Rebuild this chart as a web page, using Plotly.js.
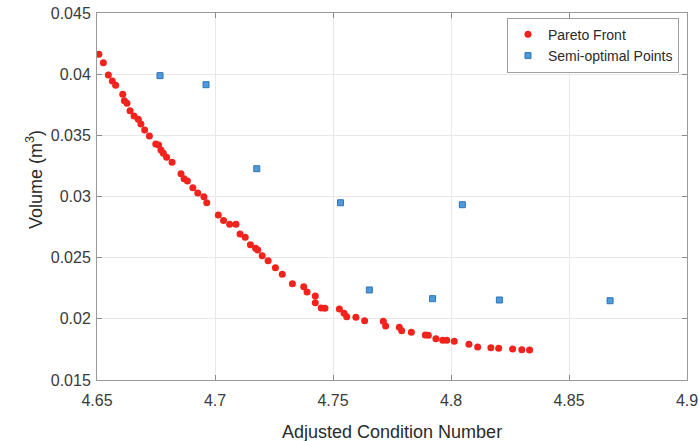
<!DOCTYPE html>
<html>
<head>
<meta charset="utf-8">
<script src="https://cdn.plot.ly/plotly-3.0.1.min.js"></script>
<style>html,body{margin:0;padding:0;background:#fff;}#chart{width:699px;height:441px;}</style>
</head>
<body>
<div id="chart"></div>
<script>
// Pareto front (red dots)
var paretoX = [4.6508, 4.6527, 4.6548, 4.6565, 4.6579, 4.6609, 4.6616, 4.6627, 4.6640, 4.6657,
  4.6675, 4.6686, 4.6702, 4.6722, 4.6749, 4.6761, 4.6771, 4.6781, 4.6795, 4.6818,
  4.6856, 4.6869, 4.6883, 4.6906, 4.6927, 4.6953, 4.6965, 4.7014, 4.7036, 4.7062,
  4.7089, 4.7106, 4.7128, 4.7150, 4.7172, 4.7181, 4.7200, 4.7225, 4.7256, 4.7285,
  4.7328, 4.7376, 4.7390, 4.7425, 4.7425, 4.7450, 4.7466, 4.7527, 4.7547, 4.7558,
  4.7597, 4.7634, 4.7713, 4.7723, 4.7781, 4.7791, 4.7832, 4.7891, 4.7904, 4.7936,
  4.7965, 4.7982, 4.8014, 4.8076, 4.8113, 4.8169, 4.8202, 4.8261, 4.8300, 4.8333];
var paretoY = [0.04162, 0.04094, 0.03993, 0.03944, 0.03909, 0.03835, 0.03783, 0.03762, 0.03701, 0.03658,
  0.03631, 0.03593, 0.03544, 0.03495, 0.03429, 0.03421, 0.03380, 0.03353, 0.03320, 0.03280,
  0.03186, 0.03146, 0.03127, 0.03072, 0.03029, 0.02998, 0.02949, 0.02849, 0.02804, 0.02773,
  0.02773, 0.02694, 0.02667, 0.02606, 0.02577, 0.02563, 0.02516, 0.02475, 0.02418, 0.02364,
  0.02287, 0.02263, 0.02219, 0.02187, 0.02132, 0.02089, 0.02086, 0.02080, 0.02045, 0.02018,
  0.02013, 0.01985, 0.01980, 0.01942, 0.01931, 0.01903, 0.01890, 0.01868, 0.01866, 0.01838,
  0.01825, 0.01825, 0.01816, 0.01792, 0.01770, 0.01764, 0.01759, 0.01753, 0.01748, 0.01745];

// Semi-optimal points (blue)
var semiX = [4.6767, 4.6962, 4.7177, 4.7532, 4.8048, 4.7654, 4.7922, 4.8205, 4.8674];
var semiY = [0.03988, 0.03914, 0.03227, 0.02949, 0.02933, 0.02236, 0.02165, 0.02154, 0.02148];

var xTicks = [4.65, 4.7, 4.75, 4.8, 4.85, 4.9];
var xTickText = ['4.65', '4.7', '4.75', '4.8', '4.85', '4.9'];
var yTicks = [0.015, 0.02, 0.025, 0.03, 0.035, 0.04, 0.045];
var yTickText = ['0.015', '0.02', '0.025', '0.03', '0.035', '0.04', '0.045'];

var font = 'Liberation Sans, Arial, sans-serif';

var traces = [
  {
    x: paretoX, y: paretoY, type: 'scatter', mode: 'markers', name: 'Pareto Front',
    marker: {color: '#f2231d', size: 7, symbol: 'circle'}
  },
  {
    x: semiX, y: semiY, type: 'scatter', mode: 'markers', name: 'Semi-optimal Points',
    marker: {color: '#4f9ad9', size: 6, symbol: 'square', line: {color: '#2f74b5', width: 1}}
  }
];

var axisCommon = {
  showline: true, linecolor: '#9a9a9a', linewidth: 1, mirror: 'ticks',
  ticks: 'inside', ticklen: 5, tickcolor: '#8a8a8a', tickwidth: 1,
  showgrid: true, gridcolor: '#e8e8e8', gridwidth: 1, zeroline: false,
  tickfont: {family: font, size: 16, color: '#3a3a3a'}, tickmode: 'array'
};

var layout = {
  width: 699, height: 441,
  margin: {l: 97, r: 12, t: 13, b: 61},
  paper_bgcolor: '#ffffff', plot_bgcolor: '#ffffff',
  font: {family: font},
  showlegend: true,
  xaxis: Object.assign({}, axisCommon, {
    range: [4.65, 4.9], tickvals: xTicks, ticktext: xTickText, ticklabelstandoff: 6
  }),
  yaxis: Object.assign({}, axisCommon, {
    range: [0.015, 0.045], tickvals: yTicks, ticktext: yTickText, ticklabelstandoff: 2
  }),
  legend: {
    x: 0.9864, xanchor: 'right', y: 0.987, yanchor: 'top',
    bgcolor: '#ffffff', bordercolor: '#a0a0a0', borderwidth: 1,
    font: {family: font, size: 14, color: '#2a2a2a'}, itemwidth: 30, tracegroupgap: 0
  },
  annotations: [
    {text: 'Adjusted Condition Number', xref: 'paper', yref: 'paper', x: 0.5, y: -0.1417,
     xanchor: 'center', yanchor: 'middle', showarrow: false,
     font: {family: font, size: 18, color: '#2a2a2a'}},
    {text: 'Volume (m<sup>3</sup>)', xref: 'paper', yref: 'paper', x: -0.105, y: 0.545,
     xanchor: 'center', yanchor: 'middle', textangle: -90, showarrow: false,
     font: {family: font, size: 18, color: '#2a2a2a'}}
  ]
};

Plotly.newPlot('chart', traces, layout, {displayModeBar: false, staticPlot: true});
</script>
</body>
</html>
